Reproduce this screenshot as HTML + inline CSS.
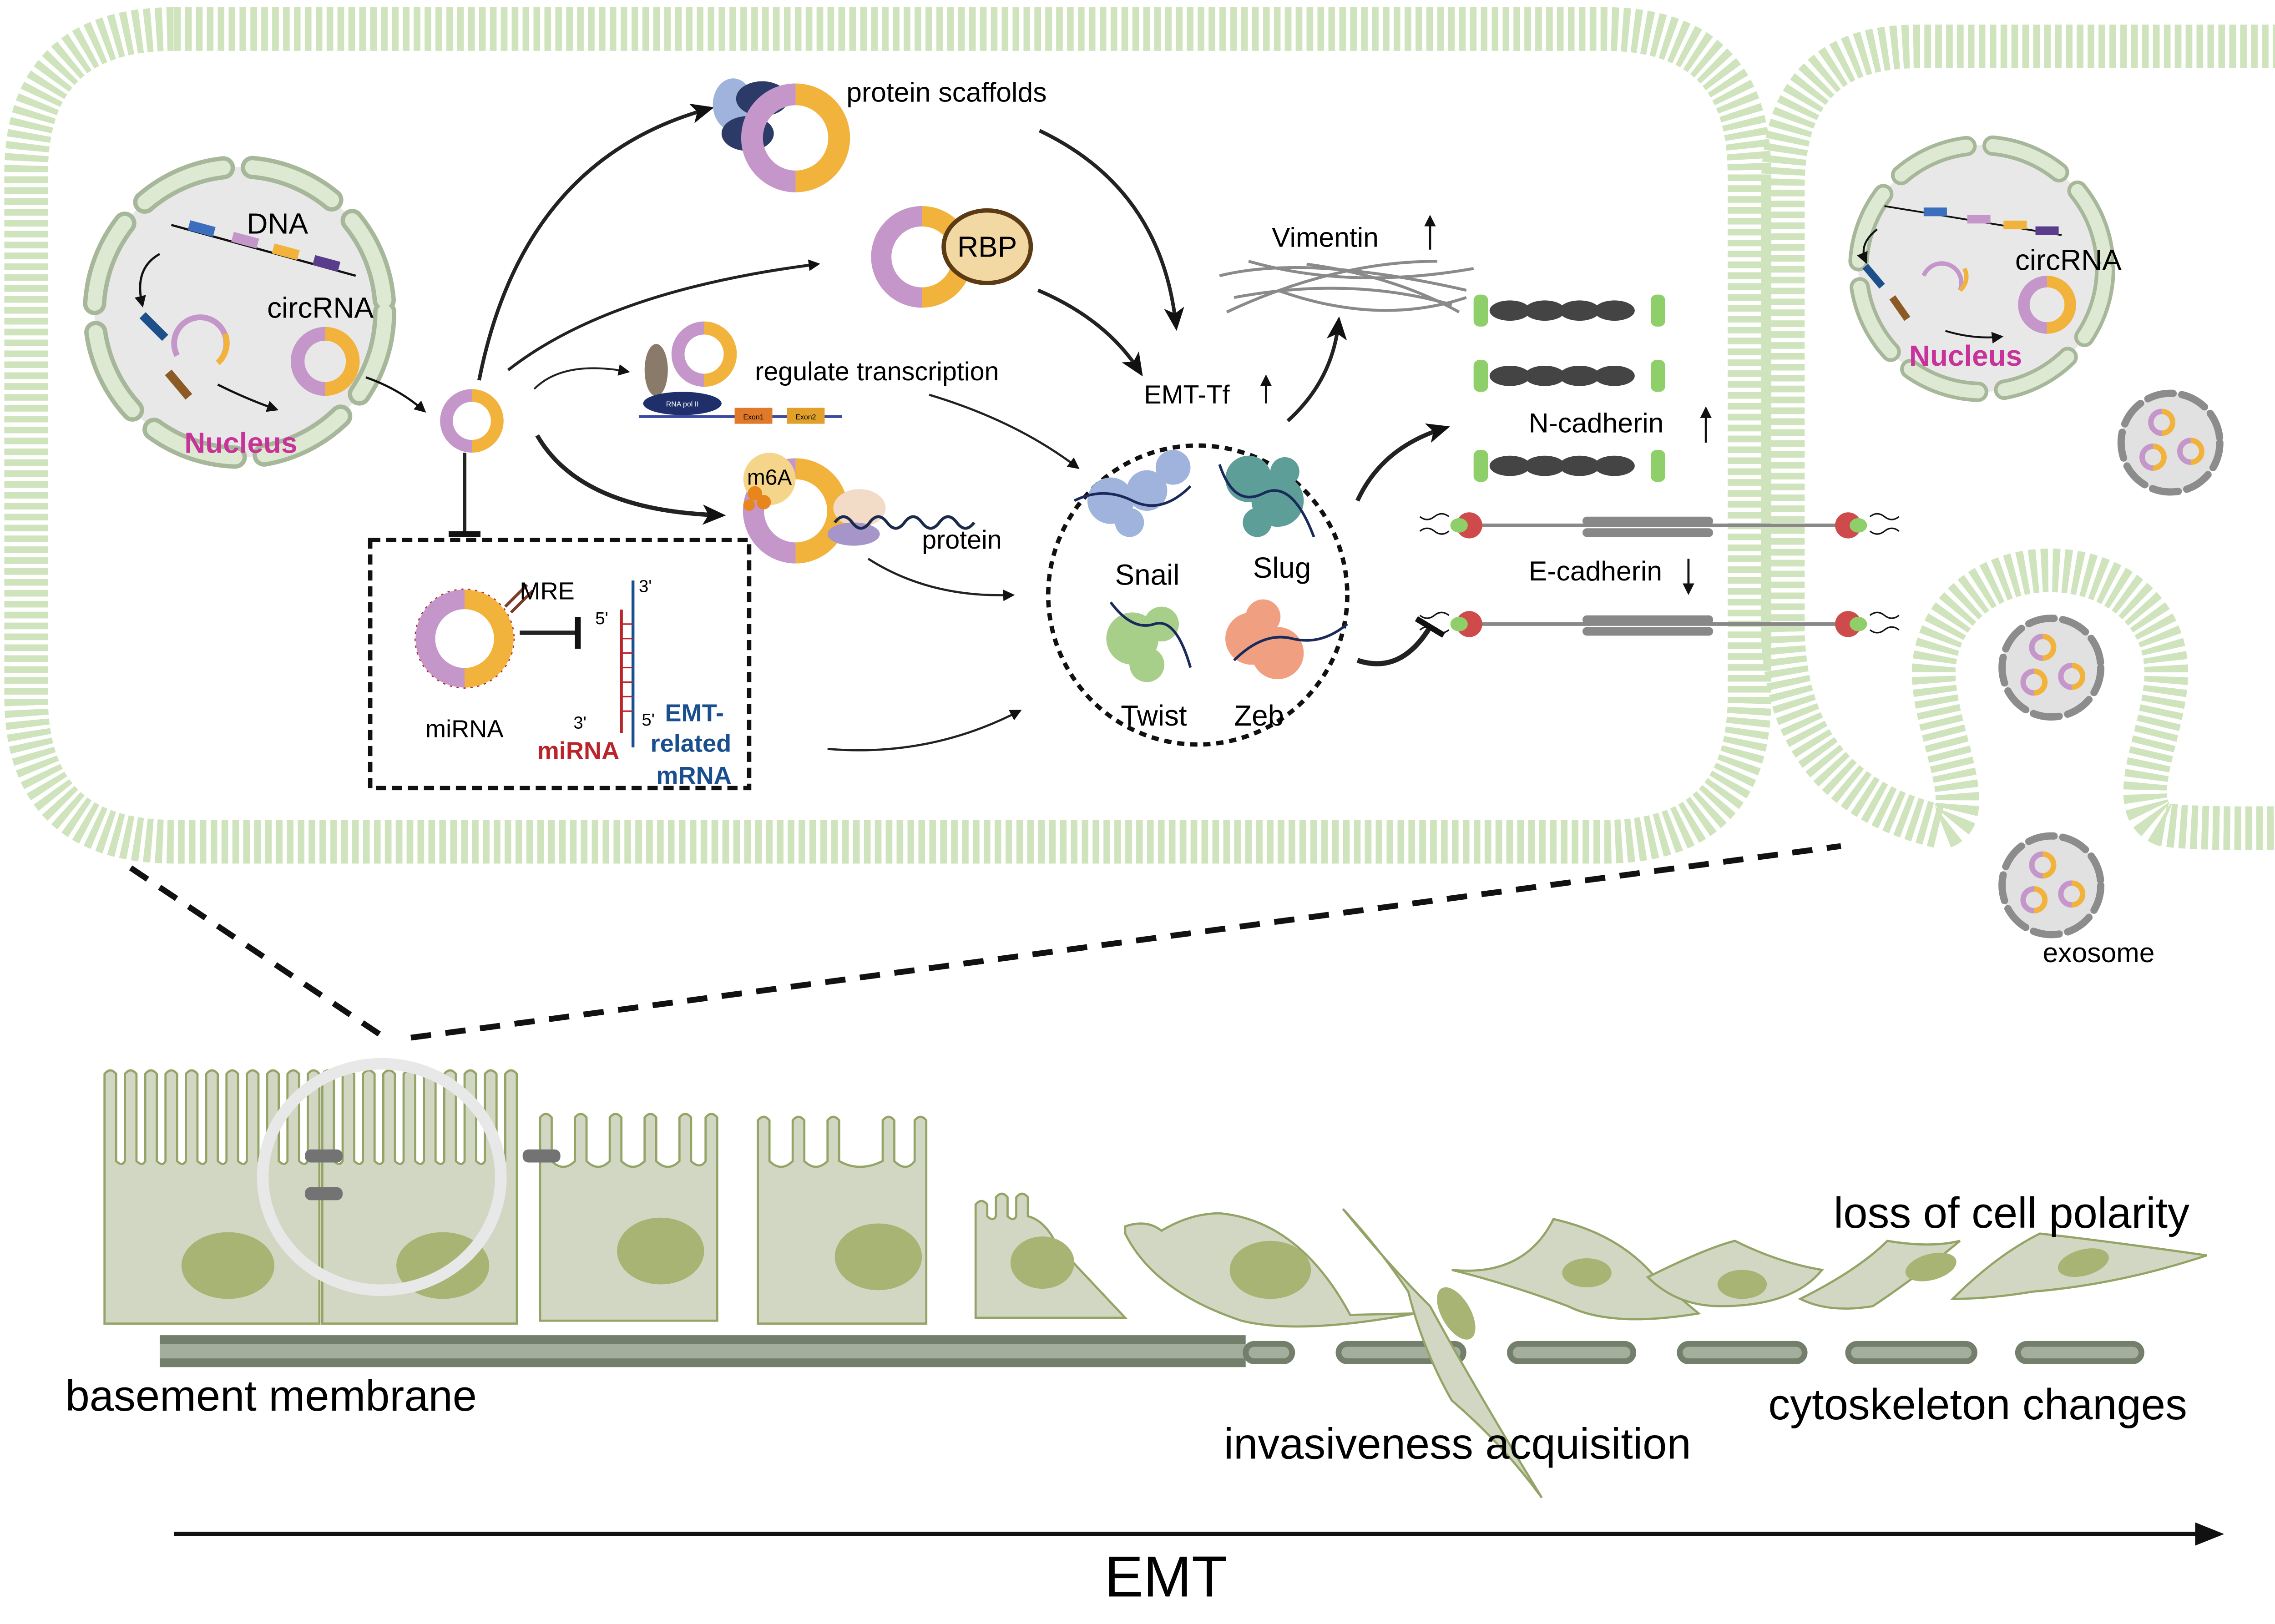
<!DOCTYPE html>
<html><head><meta charset="utf-8"><style>
html,body{margin:0;padding:0;background:#fff}
svg{display:block}
text{font-family:"Liberation Sans",sans-serif}
</style></head><body>
<svg width="5067" height="3570" viewBox="0 0 1588 1119" preserveAspectRatio="none" xmlns="http://www.w3.org/2000/svg">
<defs>
<marker id="ah" markerWidth="8" markerHeight="8" refX="6" refY="4" orient="auto" markerUnits="userSpaceOnUse"><path d="M0,0 L8,4 L0,8 Z" fill="#111"/></marker>
<marker id="ahb" markerWidth="16" markerHeight="14" refX="12" refY="7" orient="auto" markerUnits="userSpaceOnUse"><path d="M0,0 L16,7 L0,14 L4,7 Z" fill="#111"/></marker>
<marker id="bar" markerWidth="4" markerHeight="22" refX="2" refY="11" orient="auto" markerUnits="userSpaceOnUse"><rect x="0" y="0" width="4" height="22" fill="#111"/></marker>
<g id="dn"><path d="M0,-10 A10,10 0 0 0 0,10" fill="none" stroke="#c596c9" stroke-width="5"/><path d="M0,-10 A10,10 0 0 1 0,10" fill="none" stroke="#f2b33d" stroke-width="5"/></g>
<g id="exo"><circle r="34" fill="#e1e1e1" stroke="#8c8c8c" stroke-width="5" stroke-dasharray="18 6" stroke-linecap="round"/>
<use href="#dn" transform="translate(-6,-14) scale(0.75)"/><use href="#dn" transform="translate(-12,10) scale(0.75)"/><use href="#dn" transform="translate(14,6) scale(0.75)"/></g>
</defs>

<!-- membranes -->
<g fill="none">
<path id="m1" d="M120,20 H1105 Q1205,20 1205,120 V480 Q1205,580 1105,580 H120 Q18,580 18,480 V120 Q18,20 120,20 Z" stroke="#cfe4bd" stroke-width="30" stroke-dasharray="4.5 3"/>
<use href="#m1" stroke="#f8fbf4" stroke-width="21"/>
<use href="#m1" stroke="#e6f0dc" stroke-width="19" stroke-dasharray="0.7 3"/>
<path id="m2" d="M1600,32 H1320 Q1228,32 1228,130 V430 Q1228,545 1338,570 C1365,560 1330,500 1332,460 C1335,420 1370,393 1412,393 C1455,393 1490,420 1492,460 C1494,500 1460,555 1490,568 Q1510,572 1600,570" stroke="#cfe4bd" stroke-width="30" stroke-dasharray="4.5 3"/>
<use href="#m2" stroke="#f8fbf4" stroke-width="21"/>
<use href="#m2" stroke="#e6f0dc" stroke-width="19" stroke-dasharray="0.7 3"/>
</g>

<!-- left nucleus -->
<circle cx="165" cy="215" r="100" fill="#e8e8e8"/>
<circle cx="165" cy="215" r="100" fill="none" stroke="#a7b79a" stroke-width="16" stroke-dasharray="60 20" stroke-linecap="round"/>
<circle cx="165" cy="215" r="100" fill="none" stroke="#dde9d3" stroke-width="10" stroke-dasharray="60 20" stroke-linecap="round"/>
<line x1="118" y1="155" x2="245" y2="190" stroke="#111" stroke-width="1.5"/>
<rect x="130" y="154" width="18" height="7" fill="#3b6fbe" transform="rotate(15 139 157)"/>
<rect x="160" y="162" width="18" height="7" fill="#c596c9" transform="rotate(15 169 165)"/>
<rect x="188" y="170" width="18" height="7" fill="#f2b33d" transform="rotate(15 197 173)"/>
<rect x="216" y="178" width="18" height="7" fill="#5a3c8c" transform="rotate(15 225 181)"/>
<path d="M110,175 Q92,185 98,210" fill="none" stroke="#111" stroke-width="1.5" marker-end="url(#ah)"/>
<rect x="95" y="222" width="22" height="6" fill="#1d4f8a" transform="rotate(45 106 225)"/>
<rect x="112" y="262" width="22" height="6" fill="#8c5a24" transform="rotate(50 123 265)"/>
<path d="M122,245 A18,18 0 1 1 150,250" fill="none" stroke="#c596c9" stroke-width="4"/>
<path d="M150,250 A18,18 0 0 0 155,230" fill="none" stroke="#f2b33d" stroke-width="4"/>
<path d="M150,265 Q170,275 190,282" fill="none" stroke="#111" stroke-width="1.5" marker-end="url(#ah)"/>
<use href="#dn" transform="translate(224,249) scale(1.9)"/>
<text x="170" y="161" font-size="20">DNA</text>
<text x="184" y="219" font-size="20">circRNA</text>
<text x="127" y="312" font-size="20" font-weight="bold" fill="#c8339a">Nucleus</text>
<path d="M252,260 Q275,268 292,283" fill="none" stroke="#111" stroke-width="1.5" marker-end="url(#ah)"/>

<!-- right nucleus -->
<circle cx="1365" cy="185" r="85" fill="#e8e8e8"/>
<circle cx="1365" cy="185" r="85" fill="none" stroke="#a7b79a" stroke-width="14" stroke-dasharray="50 18" stroke-linecap="round"/>
<circle cx="1365" cy="185" r="85" fill="none" stroke="#dde9d3" stroke-width="9" stroke-dasharray="50 18" stroke-linecap="round"/>
<line x1="1298" y1="142" x2="1420" y2="162" stroke="#111" stroke-width="1.2"/>
<rect x="1325" y="143" width="16" height="6" fill="#3b6fbe"/><rect x="1355" y="148" width="16" height="6" fill="#c596c9"/><rect x="1380" y="152" width="16" height="6" fill="#f2b33d"/><rect x="1402" y="156" width="16" height="6" fill="#5a3c8c"/>
<path d="M1293,158 Q1280,168 1285,180" fill="none" stroke="#111" stroke-width="1.3" marker-end="url(#ah)"/>
<path d="M1325,190 A12,12 0 1 1 1350,200" fill="none" stroke="#c596c9" stroke-width="3"/>
<path d="M1350,200 A12,12 0 0 0 1353,185" fill="none" stroke="#f2b33d" stroke-width="3"/>
<rect x="1282" y="188" width="18" height="5" fill="#1d4f8a" transform="rotate(50 1291 190)"/>
<rect x="1300" y="210" width="18" height="5" fill="#8c5a24" transform="rotate(55 1309 212)"/>
<path d="M1340,228 Q1360,234 1378,232" fill="none" stroke="#111" stroke-width="1.3" marker-end="url(#ah)"/>
<use href="#dn" transform="translate(1410,210) scale(1.6)"/>
<text x="1388" y="186" font-size="20">circRNA</text>
<text x="1315" y="252" font-size="20" font-weight="bold" fill="#c8339a">Nucleus</text>

<!-- exosomes -->
<use href="#exo" transform="translate(1495,305)"/>
<use href="#exo" transform="translate(1413,460)"/>
<use href="#exo" transform="translate(1413,610)"/>
<text x="1407" y="663" font-size="19">exosome</text>

<!-- central circRNA and arrows -->
<use href="#dn" transform="translate(325,290) scale(1.75)"/>
<g fill="none" stroke="#222">
<path d="M330,262 Q360,110 488,75" stroke-width="2.5" marker-end="url(#ahb)"/>
<path d="M350,255 Q420,200 563,182" stroke-width="2" marker-end="url(#ah)"/>
<path d="M368,268 Q388,248 432,256" stroke-width="1.3" marker-end="url(#ah)"/>
<path d="M370,300 Q400,352 496,355" stroke-width="3" marker-end="url(#ahb)"/>
<path d="M320,312 V368" stroke-width="2.5" marker-end="url(#bar)"/>
<path d="M358,436 H398" stroke-width="3" marker-end="url(#bar)"/>
<path d="M716,90 Q800,130 810,224" stroke-width="2.5" marker-end="url(#ahb)"/>
<path d="M715,200 Q762,220 785,256" stroke-width="2.5" marker-end="url(#ahb)"/>
<path d="M640,272 Q700,290 742,322" stroke-width="1.5" marker-end="url(#ah)"/>
<path d="M598,385 Q640,412 697,410" stroke-width="1.5" marker-end="url(#ah)"/>
<path d="M570,516 Q640,522 702,490" stroke-width="1.5" marker-end="url(#ah)"/>
<path d="M887,290 Q918,262 922,222" stroke-width="2.5" marker-end="url(#ahb)"/>
<path d="M935,345 Q952,308 995,295" stroke-width="3" marker-end="url(#ahb)"/>
<path d="M935,455 Q965,465 985,432" stroke-width="3.5" marker-end="url(#bar)"/>
</g>

<!-- protein scaffolds -->
<ellipse cx="505" cy="72" rx="14" ry="18" fill="#9fb3dd"/>
<ellipse cx="525" cy="68" rx="18" ry="12" fill="#2b3a66"/>
<ellipse cx="515" cy="92" rx="18" ry="12" fill="#2b3a66"/>
<use href="#dn" transform="translate(548,95) scale(3)"/>
<text x="583" y="70" font-size="19">protein scaffolds</text>
<!-- RBP -->
<use href="#dn" transform="translate(635,177) scale(2.8)"/>
<ellipse cx="680" cy="170" rx="30" ry="25" fill="#f2d9a4" stroke="#5b3a14" stroke-width="3"/>
<text x="680" y="177" font-size="20" text-anchor="middle">RBP</text>
<!-- regulate transcription -->
<line x1="440" y1="287" x2="580" y2="287" stroke="#3a4aa0" stroke-width="2"/>
<ellipse cx="452" cy="255" rx="8" ry="18" fill="#8a7a6a"/>
<ellipse cx="470" cy="278" rx="27" ry="8" fill="#1f2f6a"/>
<text x="470" y="280" font-size="5" fill="#fff" text-anchor="middle">RNA pol II</text>
<rect x="506" y="281" width="26" height="11" fill="#e07a2a"/><text x="519" y="289" font-size="5" text-anchor="middle">Exon1</text>
<rect x="542" y="281" width="26" height="11" fill="#e0a02a"/><text x="555" y="289" font-size="5" text-anchor="middle">Exon2</text>
<use href="#dn" transform="translate(485,244) scale(1.8)"/>
<text x="520" y="262" font-size="18">regulate transcription</text>
<!-- m6A -->
<use href="#dn" transform="translate(548,352) scale(2.9)"/>
<ellipse cx="592" cy="350" rx="18" ry="13" fill="#f2dcc8"/>
<ellipse cx="588" cy="368" rx="18" ry="8" fill="#a695c8"/>
<path d="M575,360 q6,-8 12,0 t12,0 t12,0 t12,0 t12,0 t12,0 t12,0 t12,0" fill="none" stroke="#1a2a4a" stroke-width="2"/>
<circle cx="530" cy="330" r="18" fill="#f5d58a"/>
<circle cx="520" cy="340" r="5" fill="#e8861e"/><circle cx="526" cy="346" r="5" fill="#e8861e"/><circle cx="516" cy="348" r="4" fill="#e8861e"/>
<text x="530" y="334" font-size="15" text-anchor="middle">m6A</text>
<text x="635" y="378" font-size="18">protein</text>

<!-- miRNA box -->
<rect x="255" y="372" width="261" height="171" fill="none" stroke="#111" stroke-width="3" stroke-dasharray="7 4"/>
<circle cx="320" cy="440" r="32" fill="none" stroke="#b8262b" stroke-width="5" stroke-dasharray="1.5 3"/>
<use href="#dn" transform="translate(320,440) scale(2.7)"/>
<path d="M348,418 l15,-15 M352,422 l15,-15" stroke="#7a3b2a" stroke-width="2"/>
<text x="358" y="413" font-size="17">MRE</text>
<text x="293" y="508" font-size="17">miRNA</text>
<line x1="436" y1="400" x2="436" y2="515" stroke="#1a4f8f" stroke-width="2"/>
<path d="M428,505 L428,420" stroke="#b8262b" stroke-width="2"/>
<path d="M428,430 H436 M428,440 H436 M428,450 H436 M428,460 H436 M428,470 H436 M428,480 H436 M428,490 H436" stroke="#b8262b" stroke-width="1"/>
<text x="440" y="408" font-size="12">3'</text>
<text x="410" y="430" font-size="12">5'</text>
<text x="395" y="502" font-size="12">3'</text>
<text x="442" y="500" font-size="12">5'</text>
<text x="370" y="523" font-size="17" font-weight="bold" fill="#b8262b">miRNA</text>
<text x="458" y="497" font-size="17" font-weight="bold" fill="#1a4f8f">EMT-</text>
<text x="448" y="518" font-size="17" font-weight="bold" fill="#1a4f8f">related</text>
<text x="452" y="540" font-size="17" font-weight="bold" fill="#1a4f8f">mRNA</text>

<!-- EMT-Tf circle -->
<circle cx="825" cy="410" r="103" fill="none" stroke="#111" stroke-width="3" stroke-dasharray="5 4"/>
<g fill="#9fb3dd"><circle cx="765" cy="345" r="16"/><circle cx="790" cy="338" r="14"/><circle cx="808" cy="322" r="12"/><circle cx="778" cy="360" r="10"/></g>
<g fill="#5d9e98"><circle cx="860" cy="330" r="16"/><circle cx="880" cy="345" r="18"/><circle cx="885" cy="325" r="10"/><circle cx="866" cy="360" r="10"/></g>
<g fill="#a8cf8a"><circle cx="780" cy="440" r="18"/><circle cx="800" cy="430" r="12"/><circle cx="790" cy="458" r="12"/></g>
<g fill="#f0a080"><circle cx="862" cy="440" r="18"/><circle cx="880" cy="450" r="18"/><circle cx="870" cy="425" r="12"/></g>
<g fill="none" stroke="#1a2a5a" stroke-width="1.8">
<path d="M740,345 q20,-10 40,0 t40,-10"/><path d="M840,320 q10,30 30,20 t35,30"/><path d="M765,415 q15,20 30,15 t25,30"/><path d="M850,455 q20,-20 40,-15 t38,-10"/></g>
<text x="768" y="403" font-size="20">Snail</text><text x="863" y="398" font-size="20">Slug</text>
<text x="772" y="500" font-size="20">Twist</text><text x="850" y="500" font-size="20">Zeb</text>
<text x="788" y="278" font-size="18">EMT-Tf</text>
<path d="M872,278 V260" stroke="#111" stroke-width="1.5" marker-end="url(#ah)"/>

<!-- vimentin -->
<g fill="none" stroke="#8a8a8a" stroke-width="2">
<path d="M840,190 Q900,175 1010,200"/><path d="M850,205 Q930,190 1000,210"/><path d="M860,180 Q930,200 1015,185"/><path d="M845,215 Q920,180 990,180"/><path d="M880,200 Q950,225 1010,205"/><path d="M900,182 Q960,190 1005,215"/></g>
<text x="876" y="170" font-size="19">Vimentin</text>
<path d="M985,172 V150" stroke="#111" stroke-width="1.5" marker-end="url(#ah)"/>

<!-- N-cadherin -->
<g id="nc"><rect x="1015" y="203" width="10" height="22" rx="4" fill="#8fcf6a"/><rect x="1137" y="203" width="10" height="22" rx="4" fill="#8fcf6a"/>
<g fill="#444"><ellipse cx="1040" cy="214" rx="14" ry="7"/><ellipse cx="1064" cy="214" rx="14" ry="7"/><ellipse cx="1088" cy="214" rx="14" ry="7"/><ellipse cx="1112" cy="214" rx="14" ry="7"/></g></g>
<use href="#nc" transform="translate(0,45)"/><use href="#nc" transform="translate(0,107)"/>
<text x="1053" y="298" font-size="19">N-cadherin</text>
<path d="M1175,305 V282" stroke="#111" stroke-width="1.5" marker-end="url(#ah)"/>
<!-- E-cadherin -->
<g id="ec"><line x1="1010" y1="362" x2="1275" y2="362" stroke="#888" stroke-width="2.5"/>
<g fill="#888"><rect x="1090" y="356" width="90" height="6" rx="3"/><rect x="1090" y="364" width="90" height="6" rx="3"/></g>
<circle cx="1012" cy="362" r="9" fill="#cf4a4a"/><ellipse cx="1005" cy="362" rx="6" ry="5" fill="#8fcf6a"/>
<circle cx="1273" cy="362" r="9" fill="#cf4a4a"/><ellipse cx="1280" cy="362" rx="6" ry="5" fill="#8fcf6a"/>
<path d="M998,356 q-5,-4 -10,0 t-10,0 M998,366 q-5,4 -10,0 t-10,0 M1288,356 q5,-4 10,0 t10,0 M1288,366 q5,4 10,0 t10,0" fill="none" stroke="#111" stroke-width="1"/></g>
<use href="#ec" transform="translate(0,68)"/>
<text x="1053" y="400" font-size="19">E-cadherin</text>
<path d="M1163,385 V408" stroke="#111" stroke-width="1.5" marker-end="url(#ah)"/>

<!-- zoom dashed lines -->
<line x1="90" y1="598" x2="265" y2="715" stroke="#111" stroke-width="4" stroke-dasharray="14 10"/>
<line x1="283" y1="715" x2="1268" y2="583" stroke="#111" stroke-width="4" stroke-dasharray="14 10"/>

<!-- bottom cells -->
<g fill="#d2d7c3" stroke="#94a466" stroke-width="1.5">
<path d="M72,912 V740 q4,-5 8,0 V800 q4,4 6,0 V740 q4,-5 8,0 V800 q4,4 6,0 V740 q4,-5 8,0 V800 q4,4 6,0 V740 q4,-5 8,0 V800 q4,4 6,0 V740 q4,-5 8,0 V800 q4,4 6,0 V740 q4,-5 8,0 V800 q4,4 6,0 V740 q4,-5 8,0 V800 q4,4 6,0 V740 q4,-5 8,0 V800 q4,4 6,0 V740 q4,-5 8,0 V800 q4,4 6,0 V740 q4,-5 8,0 V800 q4,4 6,0 V740 q4,-5 8,0 V912 Z"/>
<path d="M222,912 V740 q4,-5 8,0 V800 q4,4 6,0 V740 q4,-5 8,0 V800 q4,4 6,0 V740 q4,-5 8,0 V800 q4,4 6,0 V740 q4,-5 8,0 V800 q4,4 6,0 V740 q4,-5 8,0 V800 q4,4 6,0 V740 q4,-5 8,0 V800 q4,4 6,0 V740 q4,-5 8,0 V800 q4,4 6,0 V740 q4,-5 8,0 V800 q4,4 6,0 V740 q4,-5 8,0 V800 q4,4 6,0 V740 q4,-5 8,0 V912 Z"/>
<path d="M372,910 V770 q4,-5 8,0 V800 q8,8 16,0 V770 q4,-5 8,0 V800 q8,8 16,0 V770 q4,-5 8,0 V800 q8,8 16,0 V770 q4,-5 8,0 V800 q8,8 16,0 V770 q4,-5 8,0 V800 q6,6 10,0 V770 q4,-5 8,0 V910 Z"/>
<path d="M522,912 V772 q4,-5 8,0 V800 q8,8 16,0 V772 q4,-5 8,0 V800 q8,8 16,0 V772 q4,-5 8,0 V800 q14,8 30,0 V772 q4,-5 8,0 V800 q8,8 14,0 V772 q4,-5 8,0 V912 Z"/>
<path d="M672,908 V830 q4,-5 8,0 V838 q4,4 6,0 V825 q4,-5 8,0 V838 q4,4 6,0 V825 q4,-5 8,0 V838 q12,3 20,20 L775,908 Z"/>
<path d="M775,845 q15,-5 25,3 q20,-12 40,-12 q55,5 90,70 L975,905 q-80,15 -120,5 q-60,-20 -80,-60 Z"/>
<path d="M1000,875 q50,5 70,-35 q45,10 70,40 l30,25 q-60,10 -90,-5 q-40,-15 -80,-25 Z"/>
<path d="M1135,880 q40,-20 60,-25 q30,15 60,20 q-20,25 -70,25 q-30,0 -50,-20 Z"/>
<path d="M1240,895 q40,-20 60,-40 q30,5 50,0 q-30,25 -60,45 q-30,5 -50,-5 Z"/>
<path d="M1345,895 q30,-30 60,-45 q45,5 115,15 q-60,20 -120,25 q-30,5 -55,5 Z"/>
</g>

<!-- basement membrane -->
<rect x="110" y="920" width="748" height="22" fill="#737f6b"/>
<rect x="110" y="926" width="748" height="10" fill="#a4ae9c"/>
<g fill="#a4ae9c" stroke="#737f6b" stroke-width="4">
<rect x="858" y="926" width="32" height="12" rx="6"/><rect x="922" y="926" width="86" height="12" rx="6"/><rect x="1040" y="926" width="85" height="12" rx="6"/><rect x="1157" y="926" width="86" height="12" rx="6"/><rect x="1273" y="926" width="87" height="12" rx="6"/><rect x="1390" y="926" width="85" height="12" rx="6"/></g>
<!-- invading cell -->
<path d="M925,833 Q955,870 985,900 Q1015,955 1062,1032 Q1035,995 1000,965 Q980,930 970,890 Q950,860 925,833 Z" fill="#d2d7c3" stroke="#94a466" stroke-width="1.5"/>

<g fill="#a8b474">
<ellipse cx="157" cy="872" rx="32" ry="23"/><ellipse cx="305" cy="872" rx="32" ry="23"/><ellipse cx="455" cy="862" rx="30" ry="23"/><ellipse cx="605" cy="866" rx="30" ry="23"/><ellipse cx="718" cy="870" rx="22" ry="18"/><ellipse cx="875" cy="875" rx="28" ry="20"/><ellipse cx="1003" cy="905" rx="10" ry="20" transform="rotate(-30 1003 905)"/><ellipse cx="1093" cy="877" rx="17" ry="10"/><ellipse cx="1200" cy="885" rx="17" ry="10"/><ellipse cx="1330" cy="873" rx="18" ry="9" transform="rotate(-15 1330 873)"/><ellipse cx="1435" cy="870" rx="18" ry="9" transform="rotate(-15 1435 870)"/>
</g>
<g fill="#737373"><rect x="210" y="792" width="26" height="9" rx="4"/><rect x="210" y="818" width="26" height="9" rx="4"/><rect x="360" y="792" width="26" height="9" rx="4"/></g>
<ellipse cx="263" cy="811" rx="82" ry="78" fill="none" stroke="#e8e8e8" stroke-width="8"/>

<text x="45" y="972" font-size="30">basement membrane</text>
<text x="843" y="1005" font-size="30">invasiveness acquisition</text>
<text x="1218" y="978" font-size="30">cytoskeleton changes</text>
<text x="1263" y="846" font-size="30">loss of cell polarity</text>
<line x1="120" y1="1057" x2="1515" y2="1057" stroke="#111" stroke-width="3"/>
<path d="M1512,1049 L1532,1057 L1512,1065 Z" fill="#111"/>
<text x="803" y="1100" font-size="40" text-anchor="middle">EMT</text>
</svg>
</body></html>
